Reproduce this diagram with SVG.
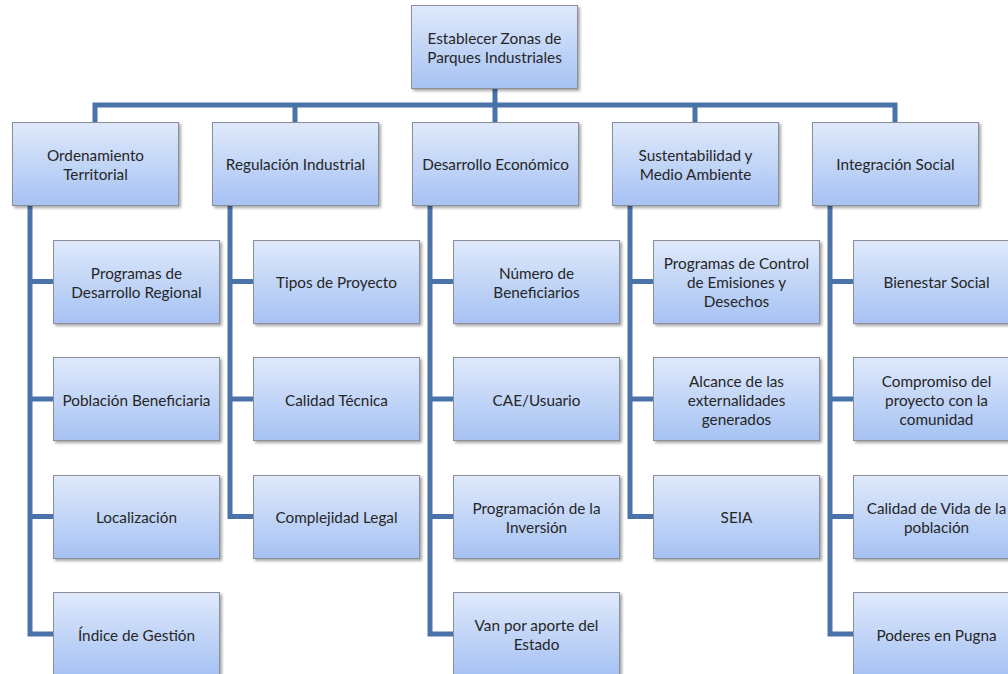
<svg xmlns="http://www.w3.org/2000/svg" width="1008" height="674" viewBox="0 0 1008 674">
  <defs>
    <linearGradient id="boxFill" x1="0" y1="0" x2="0" y2="1">
      <stop offset="0" stop-color="#dfe9fb"/>
      <stop offset="1" stop-color="#a6c2f3"/>
    </linearGradient>
    <filter id="shadow" x="-10%" y="-10%" width="125%" height="130%">
      <feDropShadow dx="2" dy="2" stdDeviation="1.5" flood-color="#000" flood-opacity="0.35"/>
    </filter>
  </defs>
  <style>
    .box { fill: url(#boxFill); stroke: #8a8f99; stroke-width: 1; filter: url(#shadow); }
    .lbl { font-family: "Lato", "Liberation Sans", sans-serif; font-size: 15.3px; fill: #262626; text-anchor: middle; dominant-baseline: central; }
    .conn { fill: none; stroke: #4a73aa; stroke-width: 5; stroke-linejoin: miter; stroke-linecap: butt; }
  </style>
  <rect width="1008" height="674" fill="#ffffff"/>

  <!-- connectors -->
  <g id="connectors">
    <path class="conn" d="M495 88 V105"/>
    <path class="conn" d="M95 124 V105 H895 V124"/>
    <path class="conn" d="M295 105 V124 M495 105 V124 M695 105 V124"/>
    <!-- column spines with branches -->
    <path class="conn" d="M30 204 V634 H54 M30 281.5 H54 M30 399 H54 M30 516.5 H54"/>
    <path class="conn" d="M230 204 V516.5 H254 M230 281.5 H254 M230 399 H254"/>
    <path class="conn" d="M430 204 V634 H454 M430 281.5 H454 M430 399 H454 M430 516.5 H454"/>
    <path class="conn" d="M630 204 V516.5 H654 M630 281.5 H654 M630 399 H654"/>
    <path class="conn" d="M830 204 V634 H854 M830 281.5 H854 M830 399 H854 M830 516.5 H854"/>
  </g>

  <!-- root -->
  <g id="root">
    <rect class="box" x="411.5" y="5.5" width="166" height="83"/>
    <text class="lbl" x="494.5" y="47"><tspan x="494.5" dy="-9.5">Establecer Zonas de</tspan><tspan x="494.5" dy="19">Parques Industriales</tspan></text>
  </g>

  <!-- level 2 -->
  <g id="ordenamiento">
    <rect class="box" x="12.5" y="122.5" width="166" height="83"/>
    <text class="lbl" x="95.5" y="164"><tspan x="95.5" dy="-9.5">Ordenamiento</tspan><tspan x="95.5" dy="19">Territorial</tspan></text>
  </g>
  <g id="regulacion">
    <rect class="box" x="212.5" y="122.5" width="166" height="83"/>
    <text class="lbl" x="295.5" y="164">Regulación Industrial</text>
  </g>
  <g id="desarrollo">
    <rect class="box" x="412.5" y="122.5" width="166" height="83"/>
    <text class="lbl" x="495.5" y="164">Desarrollo Económico</text>
  </g>
  <g id="sustentabilidad">
    <rect class="box" x="612.5" y="122.5" width="166" height="83"/>
    <text class="lbl" x="695.5" y="164"><tspan x="695.5" dy="-9.5">Sustentabilidad y</tspan><tspan x="695.5" dy="19">Medio Ambiente</tspan></text>
  </g>
  <g id="integracion">
    <rect class="box" x="812.5" y="122.5" width="166" height="83"/>
    <text class="lbl" x="895.5" y="164">Integración Social</text>
  </g>

  <!-- column 1 -->
  <g id="programas-desarrollo">
    <rect class="box" x="53.5" y="240.5" width="166" height="83"/>
    <text class="lbl" x="136.5" y="282"><tspan x="136.5" dy="-9.5">Programas de</tspan><tspan x="136.5" dy="19">Desarrollo Regional</tspan></text>
  </g>
  <g id="poblacion">
    <rect class="box" x="53.5" y="357.5" width="166" height="83"/>
    <text class="lbl" x="136.5" y="399.5">Población Beneficiaria</text>
  </g>
  <g id="localizacion">
    <rect class="box" x="53.5" y="475.5" width="166" height="83"/>
    <text class="lbl" x="136.5" y="517">Localización</text>
  </g>
  <g id="indice">
    <rect class="box" x="53.5" y="592.5" width="166" height="83"/>
    <text class="lbl" x="136.5" y="634.5">Índice de Gestión</text>
  </g>

  <!-- column 2 -->
  <g id="tipos">
    <rect class="box" x="253.5" y="240.5" width="166" height="83"/>
    <text class="lbl" x="336.5" y="282">Tipos de Proyecto</text>
  </g>
  <g id="calidad-tecnica">
    <rect class="box" x="253.5" y="357.5" width="166" height="83"/>
    <text class="lbl" x="336.5" y="399.5">Calidad Técnica</text>
  </g>
  <g id="complejidad">
    <rect class="box" x="253.5" y="475.5" width="166" height="83"/>
    <text class="lbl" x="336.5" y="517">Complejidad Legal</text>
  </g>

  <!-- column 3 -->
  <g id="beneficiarios">
    <rect class="box" x="453.5" y="240.5" width="166" height="83"/>
    <text class="lbl" x="536.5" y="282"><tspan x="536.5" dy="-9.5">Número de</tspan><tspan x="536.5" dy="19">Beneficiarios</tspan></text>
  </g>
  <g id="cae">
    <rect class="box" x="453.5" y="357.5" width="166" height="83"/>
    <text class="lbl" x="536.5" y="399.5">CAE/Usuario</text>
  </g>
  <g id="programacion">
    <rect class="box" x="453.5" y="475.5" width="166" height="83"/>
    <text class="lbl" x="536.5" y="517"><tspan x="536.5" dy="-9.5">Programación de la</tspan><tspan x="536.5" dy="19">Inversión</tspan></text>
  </g>
  <g id="van">
    <rect class="box" x="453.5" y="592.5" width="166" height="83"/>
    <text class="lbl" x="536.5" y="634.5"><tspan x="536.5" dy="-9.5">Van por aporte del</tspan><tspan x="536.5" dy="19">Estado</tspan></text>
  </g>

  <!-- column 4 -->
  <g id="control-emisiones">
    <rect class="box" x="653.5" y="240.5" width="166" height="83"/>
    <text class="lbl" x="736.5" y="282"><tspan x="736.5" dy="-19">Programas de Control</tspan><tspan x="736.5" dy="19">de Emisiones y</tspan><tspan x="736.5" dy="19">Desechos</tspan></text>
  </g>
  <g id="externalidades">
    <rect class="box" x="653.5" y="357.5" width="166" height="83"/>
    <text class="lbl" x="736.5" y="399.5"><tspan x="736.5" dy="-19">Alcance de las</tspan><tspan x="736.5" dy="19">externalidades</tspan><tspan x="736.5" dy="19">generados</tspan></text>
  </g>
  <g id="seia">
    <rect class="box" x="653.5" y="475.5" width="166" height="83"/>
    <text class="lbl" x="736.5" y="517">SEIA</text>
  </g>

  <!-- column 5 -->
  <g id="bienestar">
    <rect class="box" x="853.5" y="240.5" width="166" height="83"/>
    <text class="lbl" x="936.5" y="282">Bienestar Social</text>
  </g>
  <g id="compromiso">
    <rect class="box" x="853.5" y="357.5" width="166" height="83"/>
    <text class="lbl" x="936.5" y="399.5"><tspan x="936.5" dy="-19">Compromiso del</tspan><tspan x="936.5" dy="19">proyecto con la</tspan><tspan x="936.5" dy="19">comunidad</tspan></text>
  </g>
  <g id="calidad-vida">
    <rect class="box" x="853.5" y="475.5" width="166" height="83"/>
    <text class="lbl" x="936.5" y="517"><tspan x="936.5" dy="-9.5">Calidad de Vida de la</tspan><tspan x="936.5" dy="19">población</tspan></text>
  </g>
  <g id="poderes">
    <rect class="box" x="853.5" y="592.5" width="166" height="83"/>
    <text class="lbl" x="936.5" y="634.5">Poderes en Pugna</text>
  </g>
</svg>
